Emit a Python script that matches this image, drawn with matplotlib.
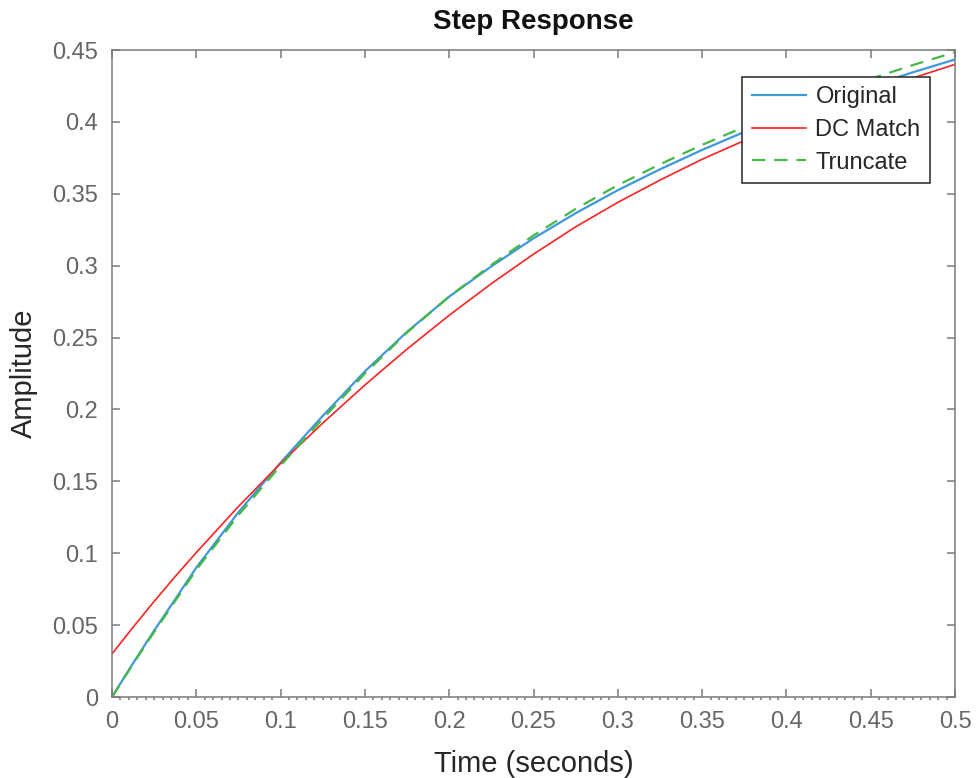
import numpy as np
import matplotlib
matplotlib.use('Agg')
import matplotlib.pyplot as plt
from matplotlib.ticker import MultipleLocator

plt.rcParams['font.family'] = ['Liberation Sans', 'DejaVu Sans']

# time samples (seconds)
t = [0, 0.0125, 0.025, 0.0375, 0.05, 0.075, 0.1, 0.125, 0.15, 0.175, 0.2, 0.225,
     0.25, 0.275, 0.3, 0.325, 0.35, 0.375, 0.4, 0.425, 0.45, 0.475, 0.5]
original = [0, 0.0235, 0.0462, 0.068, 0.090, 0.1285, 0.163, 0.1955, 0.2265, 0.254, 0.2785, 0.2995,
            0.319, 0.3365, 0.3525, 0.367, 0.3805, 0.393, 0.4045, 0.415, 0.425, 0.4345, 0.4434]
dc_match = [0.030, 0.0485, 0.0665, 0.0838, 0.1005, 0.1325, 0.1625, 0.1905, 0.217, 0.242, 0.2655, 0.2875,
            0.308, 0.327, 0.344, 0.3595, 0.374, 0.387, 0.399, 0.410, 0.4205, 0.4305, 0.440]
truncate = [0, 0.023, 0.0452, 0.0668, 0.0885, 0.1265, 0.161, 0.1935, 0.225, 0.2535, 0.2785, 0.3005,
            0.321, 0.3395, 0.356, 0.3705, 0.384, 0.3965, 0.4085, 0.4195, 0.430, 0.4395, 0.4485]

xticks = np.arange(0, 0.501, 0.05)
yticks = np.arange(0, 0.451, 0.05)

fig = plt.figure(figsize=(9.76, 7.78), dpi=100)
ax = fig.add_axes([112/976, 1-697/778, 843/976, 647/778])

ax.plot(t, original, color='#3f98d9', lw=1.6, label='Original')
ax.plot(t, dc_match, color='#ff2222', lw=1.2, label='DC Match')
ax.plot(t, truncate, color='#45b845', lw=1.6, dashes=(6, 4), label='Truncate')

ax.set_xlim(0, 0.5)
ax.set_ylim(0, 0.45)
ax.set_xticks(xticks)
ax.set_xticklabels(['0', '0.05', '0.1', '0.15', '0.2', '0.25', '0.3', '0.35', '0.4', '0.45', '0.5'])
ax.set_yticks(yticks)
ax.set_yticklabels(['0', '0.05', '0.1', '0.15', '0.2', '0.25', '0.3', '0.35', '0.4', '0.45'])
ax.xaxis.set_minor_locator(MultipleLocator(0.005))

ax.tick_params(which='major', direction='in', length=6, width=1.1, color='#7a7a7a',
               labelcolor='#666666', labelsize=17, top=True, right=True, pad=10)
ax.tick_params(axis='x', which='minor', direction='out', length=2, width=1.1, color='#7a7a7a',
               top=False)
for s in ax.spines.values():
    s.set_color('#7a7a7a')
    s.set_linewidth(1.1)

ax.set_title('Step Response', fontsize=20, fontweight='bold', color='#111111', pad=15)
ax.set_xlabel('Time (seconds)', fontsize=21, color='#262626', labelpad=12)
ax.set_ylabel('Amplitude', fontsize=21, color='#262626', labelpad=10)

leg = ax.legend(loc='upper right', bbox_to_anchor=(0.9703, 0.9583), borderaxespad=0,
                fontsize=17, handlelength=2.3, handletextpad=0.4, labelspacing=0.45,
                borderpad=0.4, fancybox=False, framealpha=1, edgecolor='#262626')
leg.get_frame().set_linewidth(1.1)
for txt in leg.get_texts():
    txt.set_color('#262626')

fig.savefig('out.png', dpi=100)
